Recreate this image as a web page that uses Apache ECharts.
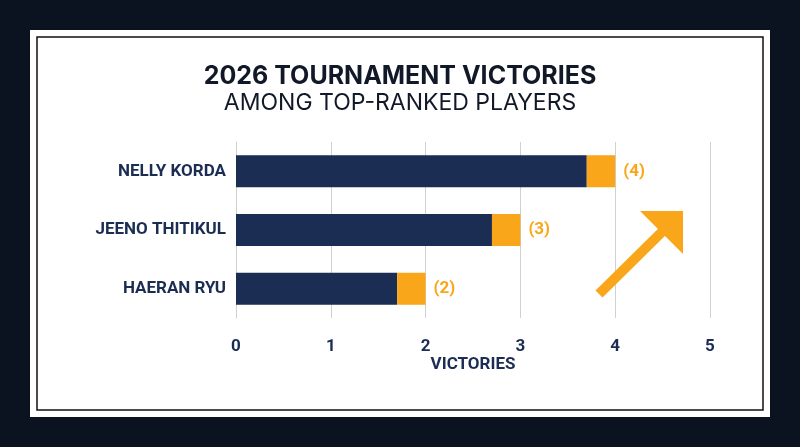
<!DOCTYPE html><html><head><meta charset="utf-8">
<script src="https://cdn.jsdelivr.net/npm/echarts@6/dist/echarts.min.js"></script>
<style>html,body{margin:0;background:#0b1220}#c{width:800px;height:447px}</style></head><body><div id="c"></div>
<script>
const players = ['NELLY KORDA','JEENO THITIKUL','HAERAN RYU'];
const victories = [4,3,2];
const capSize = 0.3;
const xTicks = [0,1,2,3,4,5];
const navy='#1b2d52', orange='#f9a61a';
const chart = echarts.init(document.getElementById('c'));
chart.setOption({
  backgroundColor:'#0b1220',
  graphic:[
    {type:'rect',z:-10,shape:{x:30,y:30,width:740,height:387},style:{fill:'#fff'}},
    {type:'rect',z:-9,shape:{x:37,y:37,width:726,height:373},style:{fill:'none',stroke:'#111',lineWidth:1.5}},
    {type:'text',left:'center',top:64,style:{text:'2026 TOURNAMENT VICTORIES',font:'bold 25px Inter, Roboto',fill:'#111827'}},
    {type:'text',left:'center',top:92,style:{text:'AMONG TOP-RANKED PLAYERS',font:'23px Inter, Roboto',fill:'#111827'}},
    {type:'line',z:10,shape:{x1:599,y1:294,x2:670,y2:224},style:{stroke:orange,lineWidth:10}},
    {type:'polygon',z:10,shape:{points:[[640,211],[683,211],[683,254]]},style:{fill:orange}}
  ],
  grid:{left:236,right:90,top:142,bottom:129},
  xAxis:{type:'value',min:0,max:5,interval:1,
    name:'VICTORIES',nameLocation:'middle',nameGap:33,
    nameTextStyle:{color:navy,fontWeight:'bold',fontSize:17,fontFamily:'Roboto'},
    axisLine:{show:false},axisTick:{show:false},
    axisLabel:{color:navy,fontWeight:'bold',fontSize:17,fontFamily:'Roboto',margin:20},
    splitLine:{lineStyle:{color:'#d0d0d0'}}},
  yAxis:{type:'category',data:players,inverse:true,
    axisLine:{lineStyle:{color:'#d0d0d0'}},axisTick:{show:false},
    axisLabel:{color:navy,fontWeight:'bold',fontSize:17,fontFamily:'Roboto',margin:10}},
  series:[
    {type:'bar',stack:'a',barWidth:32,data:victories.map(v=>v-capSize),itemStyle:{color:navy}},
    {type:'bar',stack:'a',barWidth:32,data:victories.map(()=>capSize),itemStyle:{color:orange},
     label:{show:true,position:'right',distance:8,color:orange,fontWeight:'bold',fontSize:17,fontFamily:'Roboto',
       formatter:p=>'('+victories[p.dataIndex]+')'}}
  ]
});
</script></body></html>
